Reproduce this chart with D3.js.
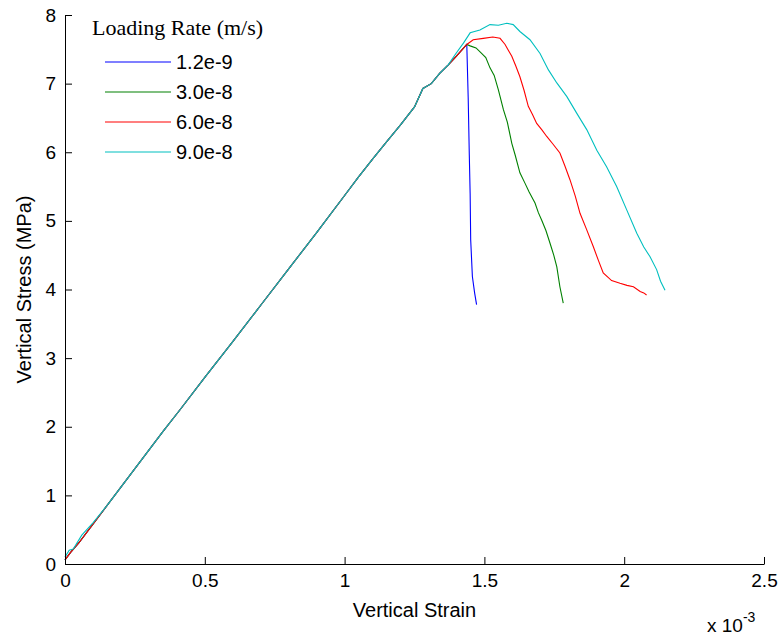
<!DOCTYPE html>
<html>
<head>
<meta charset="utf-8">
<title>Vertical Stress vs Strain</title>
<script src="https://d3js.org/d3.v7.min.js"></script>
<style>
  body { margin: 0; background: #fff; }
  svg { font-family: "Liberation Sans", Arial, sans-serif; }
  .axis .domain { stroke: #000; }
  .axis line { stroke: #000; }
  .axis text { font-size: 19px; fill: #000; }
</style>
</head>
<body>
<script>

// strain in units of 1e-3, stress in MPa
var rates = ["1.2e-9", "3.0e-8", "6.0e-8", "9.0e-8"];
var colors = ["#0000ff", "#008000", "#ff0000", "#00bfbf"];

var xTicks = [0, 0.5, 1, 1.5, 2, 2.5];
var yTicks = [0, 1, 2, 3, 4, 5, 6, 7, 8];

var rise = [[0,0.06],[0.02,0.17],[0.05,0.31],[0.1,0.58],[0.15,0.85],[0.2,1.12],[0.25,1.39],[0.3,1.66],
  [0.35,1.93],[0.41,2.24],[0.5,2.72],[0.6,3.24],[0.7,3.77],[0.8,4.3],[0.9,4.83],[1.0,5.37],
  [1.05,5.64],[1.1,5.9],[1.15,6.15],[1.2,6.4],[1.25,6.66],[1.28,6.93],[1.31,7.0],[1.34,7.15],
  [1.37,7.27],[1.40,7.40],[1.437,7.57]];

var blueTail = [[1.442,6.8],[1.446,5.96],[1.449,5.4],[1.451,4.72],[1.457,4.19],[1.465,3.95],[1.472,3.78]];

var greenTail = [[1.449,7.55],[1.47,7.52],[1.49,7.44],[1.505,7.38],[1.52,7.23],[1.535,7.12],[1.55,6.91],
  [1.568,6.62],[1.582,6.44],[1.598,6.13],[1.61,5.96],[1.627,5.70],[1.645,5.55],[1.66,5.42],[1.681,5.26],
  [1.693,5.12],[1.705,5.01],[1.72,4.86],[1.735,4.67],[1.748,4.50],[1.759,4.33],[1.770,4.04],[1.782,3.80]];

var redTail = [[1.46,7.64],[1.496,7.66],[1.53,7.68],[1.556,7.66],[1.574,7.57],[1.585,7.49],[1.598,7.40],
  [1.612,7.26],[1.627,7.10],[1.642,6.90],[1.657,6.67],[1.672,6.55],[1.687,6.42],[1.705,6.33],[1.723,6.23],
  [1.745,6.12],[1.770,5.99],[1.788,5.80],[1.806,5.60],[1.825,5.36],[1.842,5.11],[1.865,4.88],[1.889,4.63],
  [1.908,4.42],[1.925,4.24],[1.955,4.13],[1.985,4.09],[2.01,4.06],[2.033,4.04],[2.057,3.97],[2.07,3.95],[2.080,3.92]];

var cyanStart = [[0,0.1],[0.015,0.2],[0.03,0.22],[0.06,0.42],[0.1,0.6]];
var cyanTail = [[1.40,7.45],[1.425,7.59],[1.449,7.74],[1.484,7.78],[1.52,7.86],[1.55,7.85],[1.580,7.88],
  [1.603,7.86],[1.627,7.76],[1.663,7.64],[1.699,7.44],[1.729,7.20],[1.759,7.01],[1.795,6.81],
  [1.830,6.57],[1.866,6.33],[1.902,6.03],[1.937,5.79],[1.973,5.50],[2.009,5.16],[2.045,4.82],
  [2.070,4.62],[2.092,4.48],[2.116,4.29],[2.13,4.12],[2.146,3.99]];

var series = [
  rise.concat(blueTail),
  rise.concat(greenTail),
  rise.concat(redTail),
  cyanStart.concat(rise.filter(function(p) { return p[0] > 0.1 && p[0] < 1.40; })).concat(cyanTail)
];

var W = 778, H = 635;
var margin = {top: 15, right: 14, bottom: 71, left: 65};
var width = W - margin.left - margin.right,
    height = H - margin.top - margin.bottom;

var svg = d3.select("body").append("svg")
    .attr("width", W)
    .attr("height", H);

var g = svg.append("g")
    .attr("transform", "translate(" + margin.left + "," + margin.top + ")");

var x = d3.scaleLinear().domain([0, 2.5]).range([0, width]);
var y = d3.scaleLinear().domain([0, 8]).range([height, 0]);

var line = d3.line()
    .x(function(d) { return x(d[0]); })
    .y(function(d) { return y(d[1]); });

g.selectAll(".curve")
  .data(series)
  .enter().append("path")
    .attr("class", "curve")
    .attr("fill", "none")
    .attr("stroke", function(d, i) { return colors[i]; })
    .attr("stroke-width", 1.1)
    .attr("d", line);

g.append("g")
    .attr("class", "axis")
    .attr("transform", "translate(0," + height + ")")
    .call(d3.axisBottom(x).tickValues(xTicks).tickSizeInner(-7).tickSizeOuter(0).tickPadding(10)
      .tickFormat(d3.format("")));

g.append("g")
    .attr("class", "axis")
    .call(d3.axisLeft(y).tickValues(yTicks).tickSizeInner(-7).tickSizeOuter(0).tickPadding(9));

svg.append("text")
    .attr("x", margin.left + width / 2)
    .attr("y", 617)
    .attr("text-anchor", "middle")
    .attr("font-size", 20)
    .text("Vertical Strain");

var expo = svg.append("text")
    .attr("x", 707)
    .attr("y", 632)
    .attr("font-size", 19);
expo.append("tspan").text("x 10");
expo.append("tspan").attr("dy", -10).attr("font-size", 14).text("-3");

svg.append("text")
    .attr("transform", "translate(31," + (margin.top + height / 2) + ") rotate(-90)")
    .attr("text-anchor", "middle")
    .attr("font-size", 20)
    .text("Vertical Stress (MPa)");

// legend
svg.append("text")
    .attr("x", 92)
    .attr("y", 35)
    .attr("font-family", "Liberation Serif, Times New Roman, serif")
    .attr("font-size", 22)
    .text("Loading Rate (m/s)");

var legend = svg.append("g")
  .selectAll("g")
  .data(rates)
  .enter().append("g")
    .attr("transform", function(d, i) { return "translate(0," + (62 + i * 30) + ")"; });

legend.append("line")
    .attr("x1", 105)
    .attr("x2", 171)
    .attr("stroke", function(d, i) { return colors[i]; })
    .attr("stroke-width", 1.1);

legend.append("text")
    .attr("x", 176)
    .attr("dy", "0.36em")
    .attr("font-size", 20)
    .text(function(d) { return d; });
</script>
</body>
</html>
